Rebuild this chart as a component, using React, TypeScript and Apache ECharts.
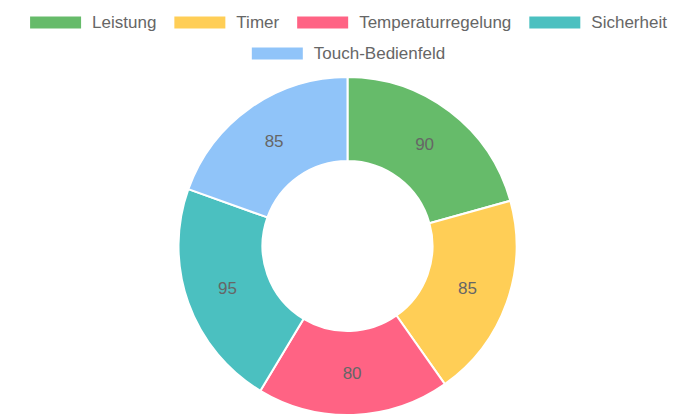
import { useRef, useEffect } from 'react';
import * as echarts from 'echarts';

const categories = ['Leistung', 'Timer', 'Temperaturregelung', 'Sicherheit', 'Touch-Bedienfeld'];
const scores = [90, 85, 80, 95, 85];
const colors = ['#66bb6a', '#ffce56', '#ff6384', '#4bc0c0', '#90c4f9'];

const FONT = "'Liberation Sans', Arial, sans-serif";
const CX = 347.5;
const CY = 246;

export default function App() {
  const chartRef = useRef<HTMLDivElement>(null);

  useEffect(() => {
    if (!chartRef.current) return;
    document.body.style.margin = '0';

    const chart = echarts.init(chartRef.current, undefined, { renderer: 'svg' });

    // two legends so each row is centred like the original
    const legendBase = {
      orient: 'horizontal',
      left: 'center',
      padding: 0,
      icon: 'rect',
      itemWidth: 53,
      itemHeight: 14,
      itemGap: 16,
      textStyle: {
        color: '#666',
        fontSize: 17,
        fontFamily: FONT,
        padding: [0, 0, 0, 5],
      },
      selectedMode: false,
    };

    const option = {
      animation: false,
      color: colors,
      legend: [
        { ...legendBase, top: 14, data: categories.slice(0, 4) },
        { ...legendBase, top: 45, data: categories.slice(4) },
      ],
      series: [{
        type: 'pie',
        center: [CX, CY],
        radius: [85, 169],
        startAngle: 90,
        clockwise: true,
        avoidLabelOverlap: false,
        itemStyle: {
          borderColor: '#fff',
          borderWidth: 2,
        },
        label: {
          show: true,
          position: 'inside',
          formatter: '{c}',
          color: '#666',
          fontSize: 17,
          fontFamily: FONT,
        },
        // pull the value labels slightly towards the hole
        labelLayout: (params: any) => {
          const r = params.labelRect;
          const lx = r.x + r.width / 2;
          const ly = r.y + r.height / 2;
          const k = 0.98;
          return { x: CX + (lx - CX) * k, y: CY + (ly - CY) * k };
        },
        labelLine: { show: false },
        emphasis: { disabled: true },
        data: categories.map((name, i) => ({ name, value: scores[i] })),
      }],
    };

    chart.setOption(option);

    return () => {
      chart.dispose();
    };
  }, []);

  return <div ref={chartRef} style={{ width: 695, height: 417 }} />;
}
